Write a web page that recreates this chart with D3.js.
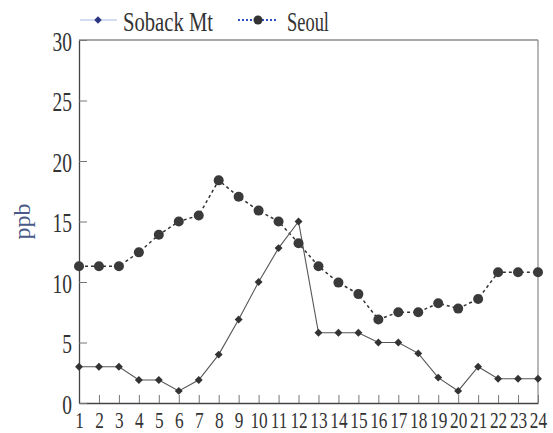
<!DOCTYPE html>
<html>
<head>
<meta charset="utf-8">
<script src="https://cdn.jsdelivr.net/npm/d3@7"></script>
<style>
  body { margin: 0; background: #fff; }
</style>
</head>
<body>
<div id="chart"></div>
<script>
// Hours of the day
const hours = d3.range(1, 25);

// Concentrations (ppb)
const soback = [3, 3, 3, 1.9, 1.9, 1, 1.9, 4, 6.9, 10, 12.8, 15,
                5.8, 5.8, 5.8, 5, 5, 4.1, 2.1, 1, 3, 2, 2, 2];
const seoul = [11.3, 11.3, 11.3, 12.45, 13.9, 15, 15.5, 18.4, 17.05, 15.9, 15, 13.2,
               11.3, 9.95, 9, 6.9, 7.5, 7.5, 8.25, 7.8, 8.6, 10.8, 10.8, 10.8];

const yTicks = [0, 5, 10, 15, 20, 25, 30];

const width = 553;
const height = 433;
const margin = { top: 40, right: 15, bottom: 30, left: 79 };
const serif = "'Liberation Serif', 'DejaVu Serif', serif";

const svg = d3.select("#chart")
  .append("svg")
  .attr("width", width)
  .attr("height", height);

const x = d3.scaleLinear()
  .domain([1, 24])
  .range([margin.left, width - margin.right]);

const y = d3.scaleLinear()
  .domain([0, 30])
  .range([height - margin.bottom, margin.top]);

// frame: top and right lighter
svg.append("line")
  .attr("x1", x(1)).attr("x2", x(24))
  .attr("y1", y(30)).attr("y2", y(30))
  .attr("stroke", "#555").attr("stroke-width", 1.2);
svg.append("line")
  .attr("x1", x(24)).attr("x2", x(24))
  .attr("y1", y(30)).attr("y2", y(0))
  .attr("stroke", "#888").attr("stroke-width", 1.2);

// x axis, labels squeezed horizontally like the condensed serif of the figure
const sx = 0.72;
const xAxis = svg.append("g")
  .attr("transform", `translate(0, ${y(0)})`)
  .call(d3.axisBottom(x).tickValues(hours).tickSizeInner(-8).tickSizeOuter(0).tickPadding(0));
xAxis.select(".domain").attr("stroke", "#444").attr("stroke-width", 1.3);
xAxis.selectAll(".tick line").attr("stroke", "#777");
xAxis.selectAll(".tick text")
  .attr("y", 25).attr("dy", null)
  .attr("transform", `scale(${sx}, 1)`)
  .attr("fill", "#333")
  .style("font-family", serif)
  .style("font-size", "24px");

// y axis
const sy = 0.72;
const yAxis = svg.append("g")
  .attr("transform", `translate(${margin.left}, 0)`)
  .call(d3.axisLeft(y).tickValues(yTicks).tickSizeInner(-8).tickSizeOuter(0).tickPadding(7));
yAxis.select(".domain").attr("stroke", "#444").attr("stroke-width", 1.3);
yAxis.selectAll(".tick line").attr("stroke", "#777");
yAxis.selectAll(".tick text")
  .attr("x", -7 / sy)
  .attr("dy", "0.38em")
  .attr("transform", `scale(${sy}, 1)`)
  .attr("fill", "#333")
  .style("font-family", serif)
  .style("font-size", "27px");

// y title
svg.append("text")
  .attr("transform", `translate(30, ${y(15)}) rotate(-90)`)
  .attr("text-anchor", "middle")
  .attr("fill", "#4a5a88")
  .style("font-family", serif)
  .style("font-size", "24px")
  .text("ppb");

// Seoul line (dashed), Soback line (solid)
const line = d3.line().x((d, i) => x(hours[i])).y(d => y(d));

svg.append("path")
  .datum(seoul)
  .attr("d", line)
  .attr("fill", "none")
  .attr("stroke", "#333")
  .attr("stroke-width", 1.5)
  .attr("stroke-dasharray", "3,3");

svg.append("path")
  .datum(soback)
  .attr("d", line)
  .attr("fill", "none")
  .attr("stroke", "#555")
  .attr("stroke-width", 1.1);

svg.append("g")
  .selectAll("circle")
  .data(seoul)
  .join("circle")
  .attr("cx", (d, i) => x(hours[i]))
  .attr("cy", d => y(d))
  .attr("r", 5)
  .attr("fill", "#3a3a3a");

const diamond = d3.symbol().type(d3.symbolDiamond2).size(40);
svg.append("g")
  .selectAll("path")
  .data(soback)
  .join("path")
  .attr("transform", (d, i) => `translate(${x(hours[i])}, ${y(d)})`)
  .attr("d", diamond)
  .attr("fill", "#333");

// legend
const leg = svg.append("g");
leg.append("line")
  .attr("x1", 80).attr("x2", 117).attr("y1", 20).attr("y2", 20)
  .attr("stroke", "#a8bce4").attr("stroke-width", 1);
leg.append("path")
  .attr("transform", "translate(98, 20)")
  .attr("d", d3.symbol().type(d3.symbolDiamond2).size(36))
  .attr("fill", "#2a3580");
leg.append("text")
  .attr("x", 123).attr("y", 31)
  .attr("fill", "#333")
  .style("font-family", serif)
  .style("font-size", "27px")
  .attr("textLength", 90)
  .attr("lengthAdjust", "spacingAndGlyphs")
  .text("Soback Mt");

leg.append("line")
  .attr("x1", 238).attr("x2", 278).attr("y1", 20).attr("y2", 20)
  .attr("stroke", "#3050c0").attr("stroke-width", 2)
  .attr("stroke-dasharray", "2,2");
leg.append("circle")
  .attr("cx", 258).attr("cy", 20).attr("r", 4.5)
  .attr("fill", "#333");
leg.append("text")
  .attr("x", 287).attr("y", 31)
  .attr("fill", "#333")
  .style("font-family", serif)
  .style("font-size", "27px")
  .attr("textLength", 42)
  .attr("lengthAdjust", "spacingAndGlyphs")
  .text("Seoul");
</script>
</body>
</html>
